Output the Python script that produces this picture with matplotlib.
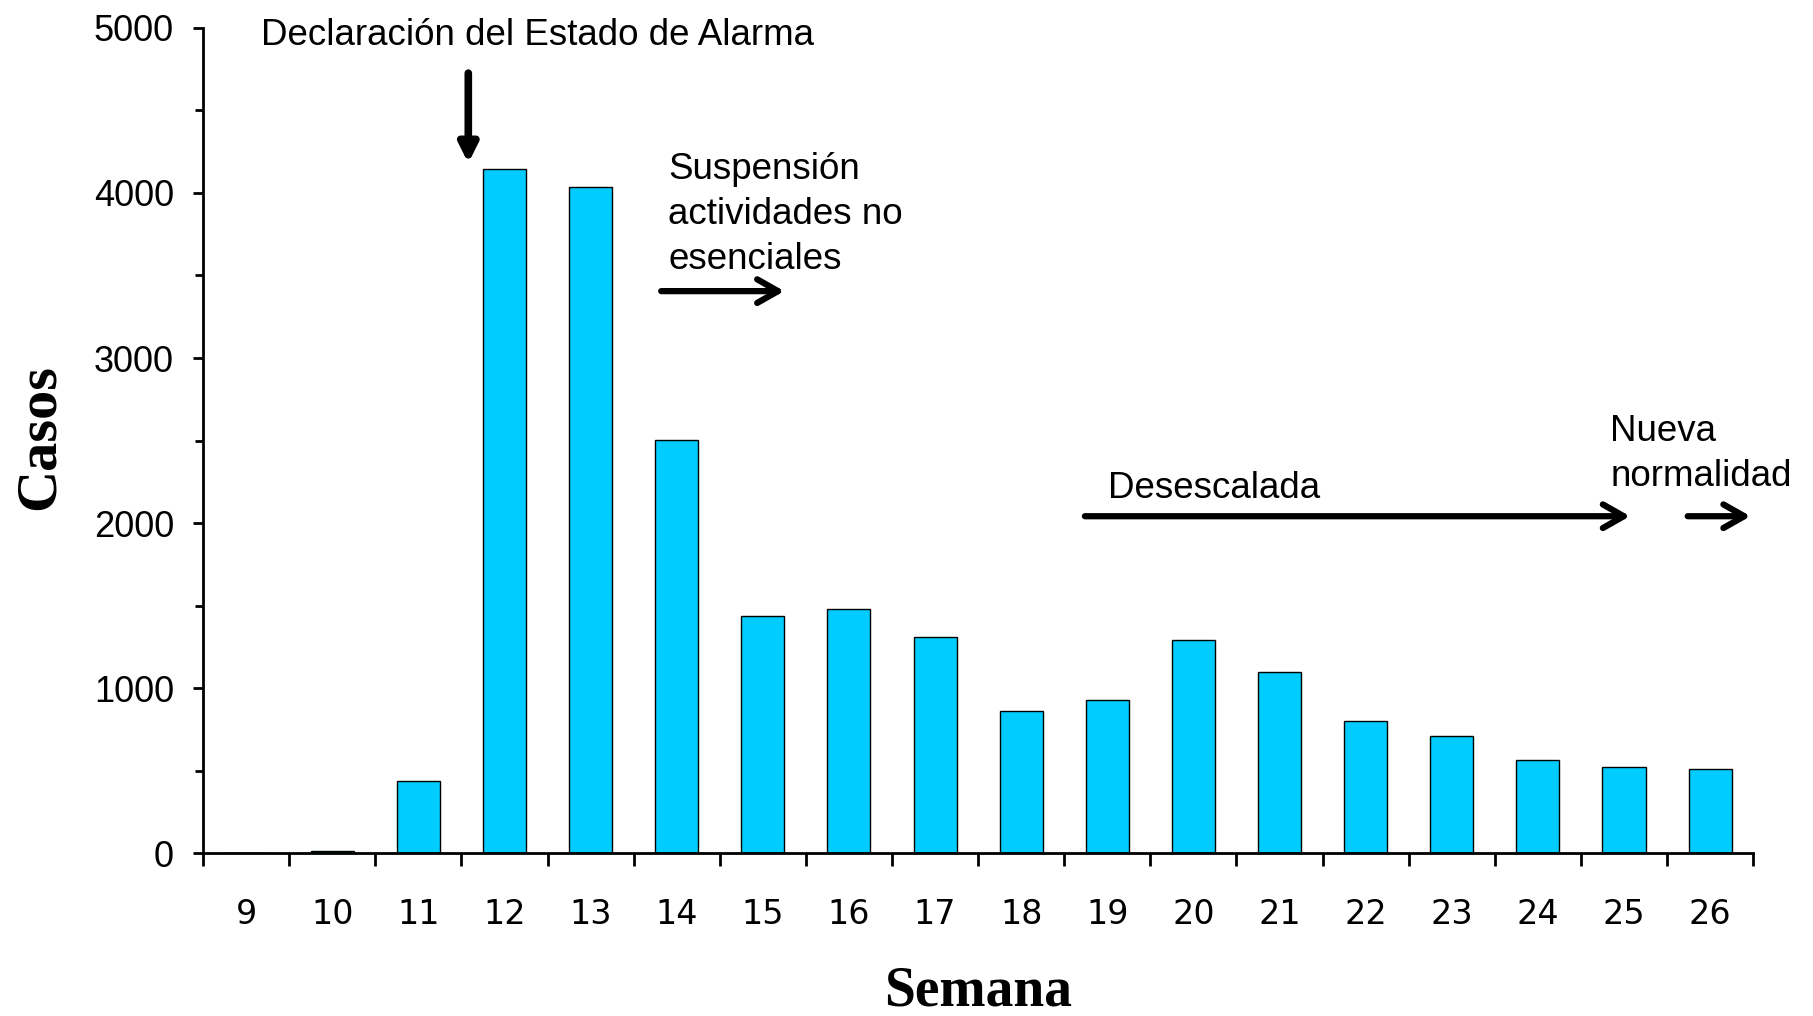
import matplotlib.pyplot as plt
import numpy as np
from matplotlib.ticker import MultipleLocator, FixedLocator

# casos por semana epidemiologica
semanas = [9, 10, 11, 12, 13, 14, 15, 16, 17, 18, 19, 20, 21, 22, 23, 24, 25, 26]
casos   = [0, 15, 440, 4145, 4033, 2505, 1435, 1482, 1308, 860,
           930, 1295, 1098, 805, 712, 567, 524, 510]

fig = plt.figure(figsize=(18.13, 10.16), dpi=100)
ax = fig.add_axes([0.112, 0.160, 0.855, 0.8127])

ax.bar(semanas, casos, width=0.5, color='#00CCFF', edgecolor='black', linewidth=1)

ax.set_xlim(8.5, 26.5)
ax.set_ylim(0, 5000)
for s in ['top', 'right']:
    ax.spines[s].set_visible(False)
for s in ['left', 'bottom']:
    ax.spines[s].set_linewidth(2)

# x: etiquetas centradas, marcas entre categorias
ax.set_xticks(semanas)
ax.set_xticklabels([str(s) for s in semanas], fontsize=24, family='DejaVu Sans')
ax.xaxis.set_minor_locator(FixedLocator(np.arange(8.5, 27, 1)))
ax.tick_params(axis='x', which='major', length=0, pad=32)
ax.tick_params(axis='x', which='minor', length=9.5, width=2, direction='out')

# y
ax.yaxis.set_major_locator(MultipleLocator(1000))
ax.yaxis.set_minor_locator(MultipleLocator(500))
ax.tick_params(axis='y', which='major', length=7, width=2, pad=14)
ax.tick_params(axis='y', which='minor', length=6, width=2)
for t in ax.get_yticklabels():
    t.set_family('Liberation Sans')
    t.set_fontsize(26)

fig.text(40/1813, 1 - 437/1016, 'Casos', rotation=90, ha='center', va='center',
         family='Liberation Serif', weight='bold', fontsize=42)
fig.text(978/1813, 1 - 992/1016, 'Semana', ha='center', va='center',
         family='Liberation Serif', weight='bold', fontsize=40)

txt = dict(family='Liberation Sans', fontsize=26.5, va='center', ha='left')
ax.text(9.17, 4950, 'Declaración del Estado de Alarma', **txt)
ax.text(13.9, 3870, 'Suspensión\nactividades no\nesenciales', linespacing=1.38, **txt)
ax.text(19.01, 2212, 'Desescalada', **txt)
ax.text(24.84, 2420, 'Nueva\nnormalidad', linespacing=1.38, **txt)

# flechas
ax.annotate('', xy=(11.58, 4180), xytext=(11.58, 4725), annotation_clip=False,
            arrowprops=dict(arrowstyle='-|>,head_length=1.1,head_width=0.55',
                            color='black', lw=5.5, shrinkA=0, shrinkB=0))
right = dict(arrowstyle='->,head_length=1.5,head_width=0.85', color='black', lw=4.5,
             shrinkA=0, shrinkB=0, capstyle='round', joinstyle='round')
ax.annotate('', xy=(15.25, 3405), xytext=(13.82, 3405), annotation_clip=False, arrowprops=right)
ax.annotate('', xy=(25.07, 2042), xytext=(18.74, 2042), annotation_clip=False, arrowprops=right)
ax.annotate('', xy=(26.47, 2042), xytext=(25.74, 2042), annotation_clip=False, arrowprops=right)

fig.savefig('out.png', dpi=100)
